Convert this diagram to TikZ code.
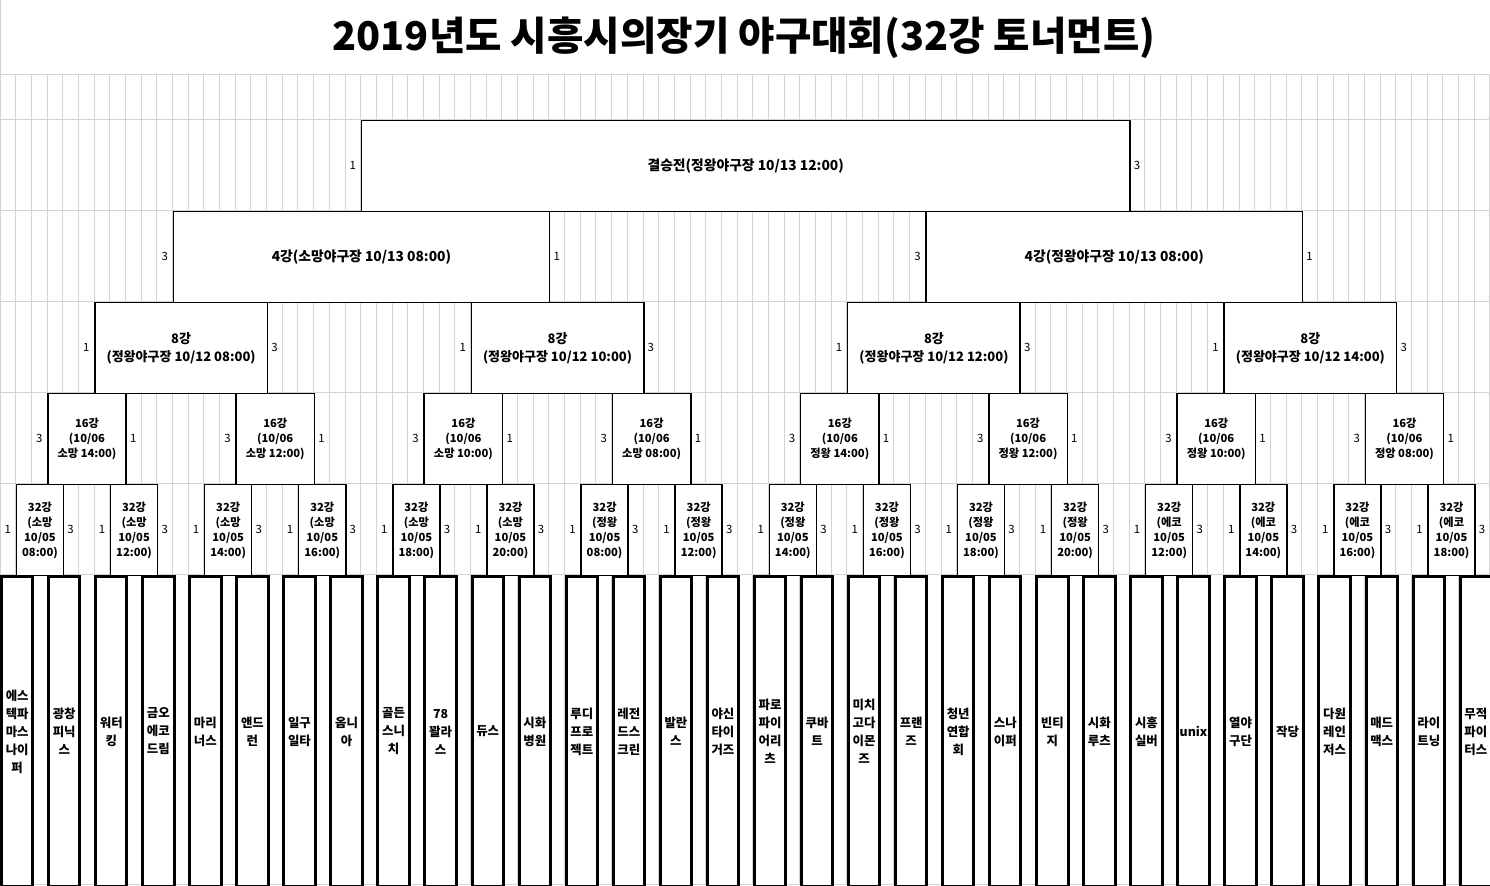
\documentclass[tikz,border=0pt]{standalone}
\usepackage{fontspec}
\setmainfont{Noto Sans CJK KR}
\definecolor{gridgray}{HTML}{D4D4D4}
\begin{document}
\begin{tikzpicture}[x=0.5pt,y=-0.5pt,
  gridline/.style={draw=gridgray,line width=0.5pt},
  box/.style={draw=black,fill=white,line width=0.75pt,inner sep=0pt,align=center,anchor=north west},
  teambox/.style={draw=black,fill=white,line width=1.5pt,inner sep=0pt,align=center,anchor=north west,
    font=\fontsize{6.2}{9}\selectfont\bfseries},
  smalltxt/.style={font=\fontsize{5.6}{7.5}\selectfont\bfseries},
  midtxt/.style={font=\fontsize{6.5}{9}\selectfont\bfseries},
  bigtxt/.style={font=\fontsize{6.9}{9}\selectfont\bfseries},
  score/.style={font=\fontsize{5.7}{6}\selectfont,inner sep=0pt},
]
\def\cw{15.684}
\useasboundingbox (0,0) rectangle (1490,886);
% grid
\foreach \k in {0,...,95} {
  \pgfmathsetmacro\gx{\k*\cw}
  \draw[gridline] (\gx,75) -- (\gx,885);
}
\foreach \gy in {0,75,120,211,302,393,484,575,885} {
  \draw[gridline] (0,\gy) -- (1490,\gy);
}
\draw[gridline] (0,0) -- (0,75);
\draw[gridline] (1490,0) -- (1490,75);
% title
\node[font=\fontsize{19.8}{24}\selectfont\bfseries,inner sep=0pt] (title) at (744,38) {2019년도 시흥시의장기 야구대회(32강 토너먼트)};
% final
\pgfmathsetmacro\fx{23*\cw}
\pgfmathsetmacro\fw{49*\cw*0.5}
\pgfmathsetmacro\fl{22.5*\cw}
\pgfmathsetmacro\fr{72.5*\cw}
\node[box,bigtxt,minimum width=\fw pt,minimum height=45.5pt] (fin) at (\fx,120) {결승전(정왕야구장 10/13 12:00)};
\node[score] (fin-a) at (\fl,165.5) {1};
\node[score] (fin-b) at (\fr,165.5) {3};
% semifinals
\foreach \n/\v in {0/소망,1/정왕} {
  \pgfmathsetmacro\xa{(48*\n+11)*\cw}
  \pgfmathsetmacro\bw{24*\cw*0.5}
  \pgfmathsetmacro\xl{(48*\n+10.5)*\cw}
  \pgfmathsetmacro\xr{(48*\n+35.5)*\cw}
  \node[box,bigtxt,minimum width=\bw pt,minimum height=45.5pt] (r4-\n) at (\xa,211) {4강({\v}야구장 10/13 08:00)};
  \node[score] (s4a-\n) at (\xl,256.5) {3};
  \node[score] (s4b-\n) at (\xr,256.5) {1};
}
% quarterfinals
\foreach \m/\tm in {0/08:00,1/10:00,2/12:00,3/14:00} {
  \pgfmathsetmacro\xa{(24*\m+6)*\cw}
  \pgfmathsetmacro\bw{11*\cw*0.5}
  \pgfmathsetmacro\xl{(24*\m+5.5)*\cw}
  \pgfmathsetmacro\xr{(24*\m+17.5)*\cw}
  \node[box,midtxt,minimum width=\bw pt,minimum height=45.5pt] (r8-\m) at (\xa,302) {8강\\(정왕야구장 10/12 {\tm})};
  \node[score] (s8a-\m) at (\xl,347.5) {1};
  \node[score] (s8b-\m) at (\xr,347.5) {3};
}
% round of 16
\foreach \k/\v/\tm in {0/소망/14:00,1/소망/12:00,2/소망/10:00,3/소망/08:00,4/정왕/14:00,5/정왕/12:00,6/정왕/10:00,7/정앙/08:00} {
  \pgfmathsetmacro\xa{(12*\k+3)*\cw}
  \pgfmathsetmacro\bw{5*\cw*0.5}
  \pgfmathsetmacro\xl{(12*\k+2.5)*\cw}
  \pgfmathsetmacro\xr{(12*\k+8.5)*\cw}
  \node[box,smalltxt,minimum width=\bw pt,minimum height=45.5pt] (r16-\k) at (\xa,393) {16강\\(10/06\\{\v} {\tm})};
  \node[score] (s16a-\k) at (\xl,438.5) {3};
  \node[score] (s16b-\k) at (\xr,438.5) {1};
}
% round of 32
\foreach \j/\v/\tm in {0/소망/08:00,1/소망/12:00,2/소망/14:00,3/소망/16:00,4/소망/18:00,5/소망/20:00,6/정왕/08:00,7/정왕/12:00,8/정왕/14:00,9/정왕/16:00,10/정왕/18:00,11/정왕/20:00,12/에코/12:00,13/에코/14:00,14/에코/16:00,15/에코/18:00} {
  \pgfmathsetmacro\xa{(6*\j+1)*\cw}
  \pgfmathsetmacro\bw{3*\cw*0.5}
  \pgfmathsetmacro\xl{(6*\j+0.5)*\cw}
  \pgfmathsetmacro\xr{(6*\j+4.5)*\cw}
  \node[box,smalltxt,minimum width=\bw pt,minimum height=45.5pt] (r32-\j) at (\xa,484) {32강\\({\v}\\10/05\\{\tm})};
  \node[score] (s32a-\j) at (\xl,529.5) {1};
  \node[score] (s32b-\j) at (\xr,529.5) {3};
}
% teams
\pgfmathsetmacro\tw{2*\cw*0.5}
\foreach \t [count=\i from 0] in {
  {에스\\텍파\\마스\\나이\\퍼},{광창\\피닉\\스},{워터\\킹},{금오\\에코\\드림},
  {마리\\너스},{앤드\\런},{일구\\일타},{옴니\\아},
  {골든\\스니\\치},{78\\꽐라\\스},{듀스},{시화\\병원},
  {루디\\프로\\젝트},{레전\\드스\\크린},{발란\\스},{야신\\타이\\거즈},
  {파로\\파이\\어리\\츠},{쿠바\\트},{미치\\고다\\이몬\\즈},{프랜\\즈},
  {청년\\연합\\회},{스나\\이퍼},{빈티\\지},{시화\\루츠},
  {시흥\\실버},{unix},{열야\\구단},{작당},
  {다원\\레인\\저스},{매드\\맥스},{라이\\트닝},{무적\\파이\\터스}} {
  \pgfmathsetmacro\xa{3*\i*\cw}
  \node[teambox,minimum width=\tw pt,minimum height=155pt] (team-\i) at (\xa,575) {\t};
}
\end{tikzpicture}
\end{document}
